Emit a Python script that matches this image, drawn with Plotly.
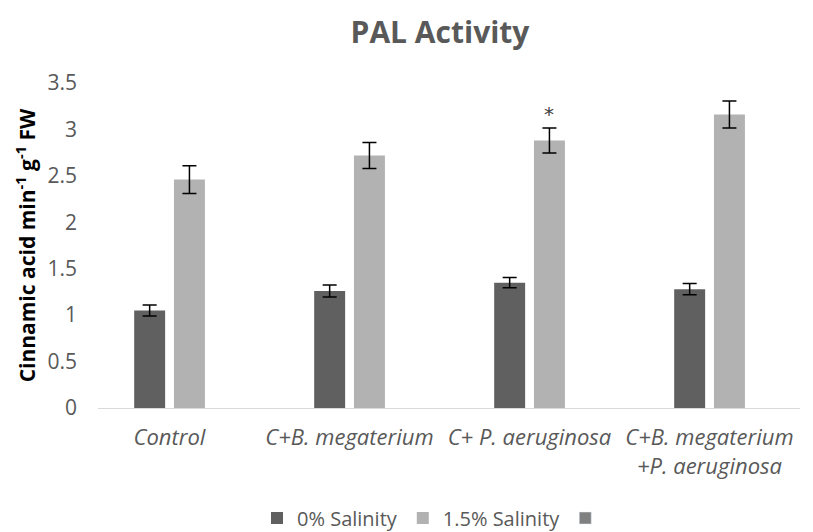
import plotly.graph_objects as go

categories = ["Control", "C+B. megaterium", "C+ P. aeruginosa", "C+B. megaterium<br>+P. aeruginosa"]
sal0 = [1.05, 1.26, 1.35, 1.28]
sal0_err = [0.06, 0.065, 0.055, 0.06]
sal15 = [2.46, 2.72, 2.88, 3.16]
sal15_err = [0.15, 0.14, 0.135, 0.145]
series_names = ["0% Salinity", "1.5% Salinity", ""]
colors = ["#606060", "#b2b2b2", "#808080"]
x = [0, 1, 2, 3]

FONT = "Open Sans"
fig = go.Figure()
fig.add_trace(go.Bar(
    x=x, y=sal0, name=series_names[0], marker=dict(color=colors[0], line=dict(width=0)),
    offset=-0.196, width=0.172,
    error_y=dict(type="data", array=sal0_err, color="#000000", thickness=1.5, width=7),
))
fig.add_trace(go.Bar(
    x=x, y=sal15, name=series_names[1], marker=dict(color=colors[1], line=dict(width=0)),
    offset=0.025, width=0.172,
    error_y=dict(type="data", array=sal15_err, color="#000000", thickness=1.5, width=7),
))
fig.add_trace(go.Bar(
    x=x, y=[None] * 4, name=series_names[2], marker=dict(color=colors[2]),
))

fig.add_annotation(x=2 + 0.111, y=3.17, text="*", showarrow=False,
                   font=dict(family="DejaVu Sans", size=20, color="#404040"), xref="x", yref="y")

fig.update_layout(
    width=813, height=532,
    margin=dict(l=98, r=13, t=83, b=124, autoexpand=False),
    paper_bgcolor="white", plot_bgcolor="white",
    barmode="overlay",
    title=dict(text="<b>PAL Activity</b>", x=440 / 813, xanchor="center", y=1 - 32 / 532,
               yanchor="middle", font=dict(family=FONT, size=30, color="#595959")),
    font=dict(family=FONT, color="#595959"),
    showlegend=True,
    legend=dict(orientation="h", x=(434 - 98) / 702, xanchor="center",
                yref="container", y=1 - 518 / 532, yanchor="middle",
                font=dict(family=FONT, size=20, color="#595959"), itemwidth=30,
                tracegroupgap=0, traceorder="normal"),
)
fig.update_xaxes(
    tickmode="array", tickvals=x, ticktext=[f"<i>{c}</i>" for c in categories],
    range=[-0.397, 3.503], showline=True, linecolor="#d9d9d9", linewidth=1,
    showgrid=False, zeroline=False, ticks="", automargin=False,
    tickfont=dict(family=FONT, size=22, color="#595959"),
    ticklabelstandoff=10,
)
fig.update_yaxes(
    range=[0, 3.5], tickvals=[0, 0.5, 1, 1.5, 2, 2.5, 3, 3.5],
    ticktext=["0", "0.5", "1", "1.5", "2", "2.5", "3", "3.5"],
    showgrid=False, zeroline=False, showline=False, ticks="", automargin=False,
    tickfont=dict(family=FONT, size=21, color="#595959"),
    ticklabelstandoff=20,
    title=dict(text="<b>Cinnamic acid min<sup>-1</sup> g<sup>-1</sup> FW</b>",
               font=dict(family=FONT, size=21, color="#000000"), standoff=6),
)
fig.write_html("out.html", config={"displayModeBar": False},
               post_script="document.body.style.margin='0px';")
